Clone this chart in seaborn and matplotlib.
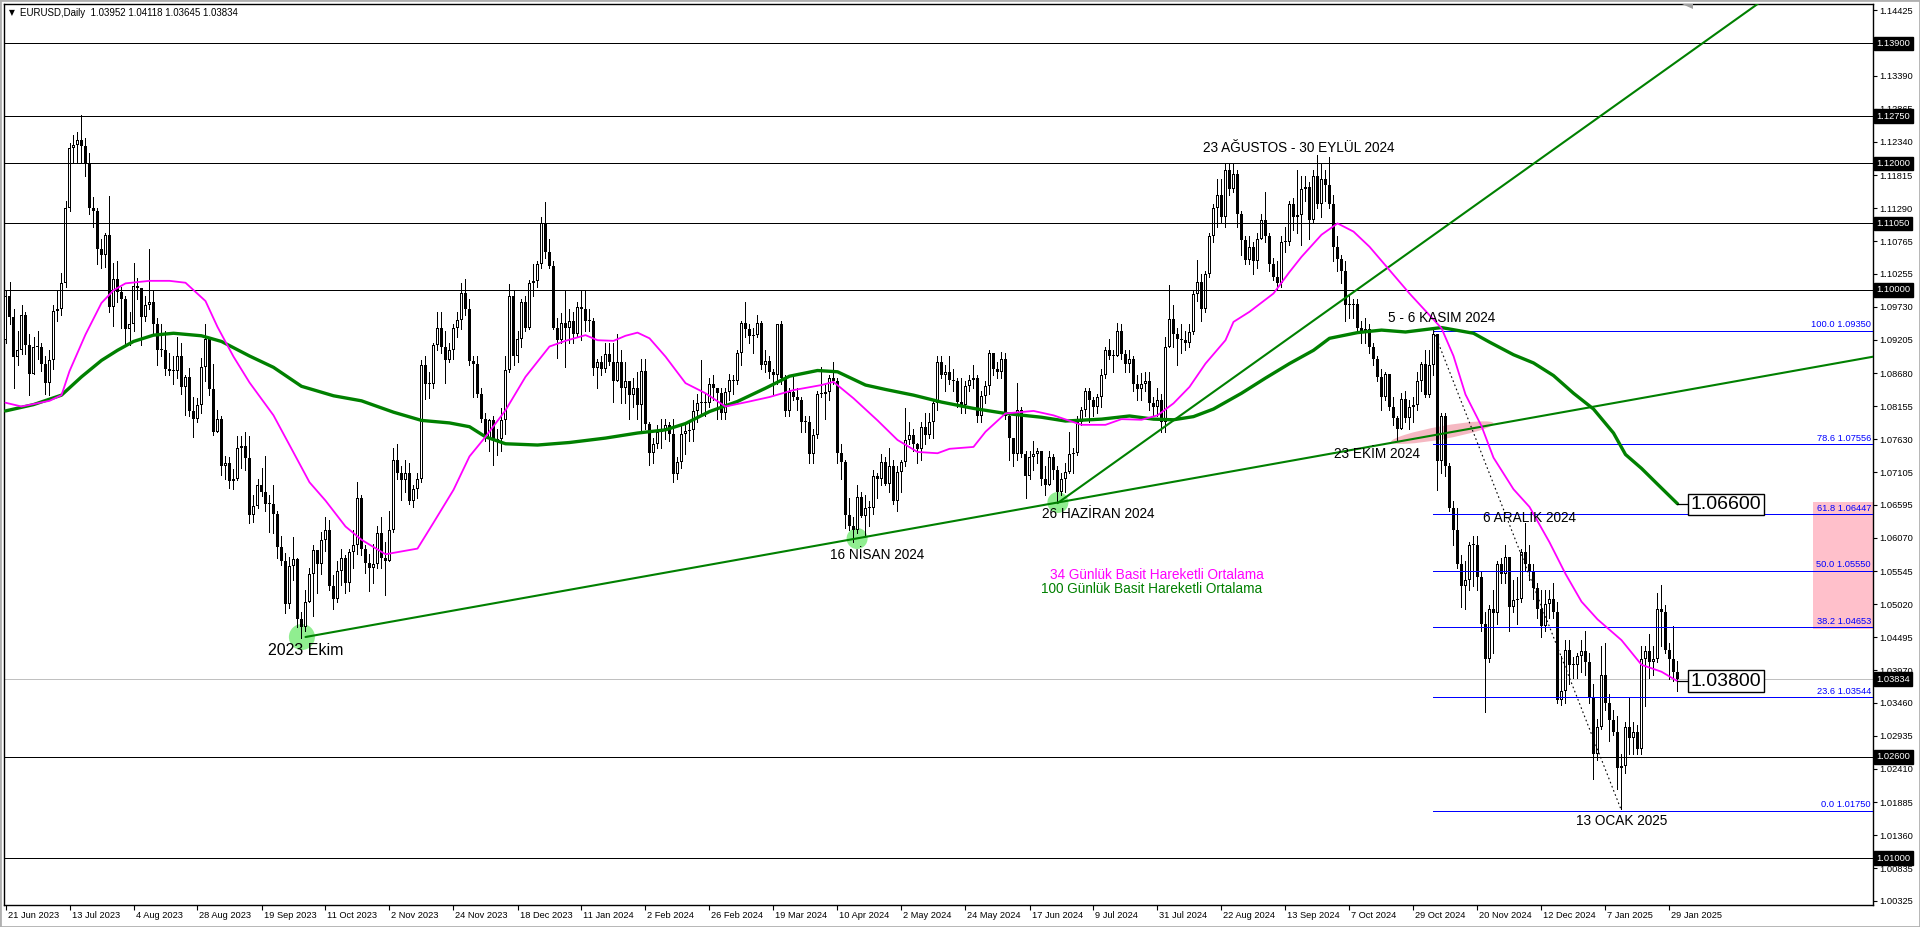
import numpy as np
import pandas as pd
import matplotlib
matplotlib.use("Agg")
import matplotlib.pyplot as plt
import seaborn as sns
from matplotlib.patches import Ellipse, Rectangle, Polygon
from matplotlib.transforms import blended_transform_factory, ScaledTranslation, IdentityTransform

sns.set_theme(style="white")
plt.rcParams["font.family"] = ["Liberation Sans", "DejaVu Sans"]

# ---------------- data (prices x 10000) ----------------
first_open = 10920
closes = [
    10990, 10957, 10894,
    10905, 10960, 10913, 10867, 10910,
    10910, 10882, 10853, 10888, 10967,
    10970, 11010, 11129, 11225, 11229,
    11237, 11228, 11200, 11130, 11125,
    11064, 11055, 11086, 10972, 11017,
    10997, 10985, 10937, 10946, 11006,
    11003, 10957, 10975, 10980, 10945,
    10905, 10905, 10875, 10872, 10872,
    10895, 10846, 10862, 10808, 10795,
    10818, 10878, 10922, 10843, 10775,
    10795, 10720, 10725, 10697, 10700,
    10750, 10752, 10733, 10643, 10657,
    10690, 10679, 10660, 10660, 10645,
    10593, 10570, 10502, 10563, 10573,
    10478, 10466, 10505, 10550, 10588,
    10566, 10604, 10620, 10530, 10510,
    10555, 10575, 10535, 10585, 10595,
    10670, 10590, 10567, 10560, 10565,
    10615, 10575, 10570, 10620, 10730,
    10710, 10698, 10710, 10665, 10685,
    10700, 10880, 10850, 10850, 10912,
    10940, 10910, 10888, 10905, 10940,
    10952, 10995, 10970, 10887, 10883,
    10835, 10795, 10765, 10793, 10762,
    10763, 10794, 10873, 10990, 10895,
    10922, 10980, 10940, 11010, 11013,
    11040, 11105, 11060, 11038,
    10940, 10920, 10947, 10940,
    10950, 10930, 10972, 10970, 10950,
    10950, 10876, 10885, 10875, 10898,
    10885, 10855, 10885, 10845, 10855,
    10833, 10845, 10818, 10872, 10788,
    10742, 10755, 10775, 10780, 10785,
    10772, 10708, 10727, 10772, 10777,
    10778, 10808, 10820, 10822, 10820,
    10850, 10845, 10837, 10805, 10838,
    10857, 10855, 10900, 10947, 10938,
    10927, 10928, 10947, 10880, 10887,
    10870, 10865, 10945, 10860, 10808,
    10838, 10830, 10825, 10790, 10790,
    10740, 10770, 10835, 10835, 10838,
    10860, 10855, 10742, 10727, 10643,
    10625, 10620, 10672, 10642, 10655,
    10655, 10705, 10700, 10727, 10692,
    10720, 10665, 10712, 10727, 10762,
    10770, 10755, 10748, 10782, 10770,
    10790, 10820, 10885, 10865, 10870,
    10857, 10855, 10822, 10818, 10847,
    10857, 10860, 10800, 10832, 10848,
    10900, 10875, 10870, 10890, 10800,
    10765, 10740, 10810, 10740, 10705,
    10735, 10740, 10745, 10700, 10690,
    10735, 10715, 10680, 10700, 10712,
    10740, 10742, 10790, 10810, 10840,
    10825, 10815, 10830, 10865, 10905,
    10895, 10895, 10935, 10898, 10882,
    10890, 10850, 10843, 10850, 10855,
    10820, 10815, 10825, 10790, 10910,
    10953, 10930, 10922, 10920, 10915,
    10933, 10993, 11012, 10970, 11025,
    11085, 11130, 11150, 11115, 11190,
    11160, 11183, 11120, 11078, 11047,
    11068, 11045, 11080, 11110, 11085,
    11040, 11020, 11010, 11075, 11075,
    11135, 11115, 11118, 11160, 11162,
    11110, 11180, 11135, 11175, 11165,
    11135, 11068, 11048, 11030, 10975,
    10975, 10978, 10940, 10935, 10937,
    10910, 10890, 10862, 10830, 10867,
    10815, 10797, 10780, 10827, 10797,
    10815, 10818, 10855, 10883, 10833,
    10880, 10930, 10728, 10800, 10720,
    10655, 10620, 10565, 10530, 10540,
    10595, 10595, 10545, 10470, 10415,
    10495, 10488, 10565, 10550, 10577,
    10497, 10508, 10510, 10585, 10566,
    10555, 10528, 10495, 10467, 10502,
    10510, 10490, 10350, 10365, 10430,
    10405, 10405, 10420, 10428,
    10410, 10353, 10265, 10307,
    10390, 10345, 10318, 10300, 10243,
    10245, 10307, 10290, 10300, 10273,
    10415, 10428, 10410, 10415, 10495,
    10490, 10430, 10415, 10395, 10383.4,
]
highs = [
    11000, 11012, 10970,
    10935, 10976, 10965, 10930, 10925,
    10935, 10915, 10895, 10904, 10975,
    10999, 11026, 11140, 11232, 11245,
    11250, 11276, 11240, 11217, 11147,
    11130, 11080, 11090, 11149, 11043,
    11045, 11005, 10990, 10965, 11042,
    11018, 10990, 10990, 11065, 11000,
    10955, 10945, 10935, 10900, 10895,
    10925, 10915, 10865, 10876, 10830,
    10828, 10892, 10945, 10925, 10882,
    10810, 10800, 10737, 10735, 10716,
    10768, 10768, 10775, 10768, 10675,
    10700, 10718, 10737, 10675, 10690,
    10650, 10610, 10583, 10577, 10609,
    10575, 10490, 10525, 10560, 10595,
    10578, 10616, 10640, 10635, 10548,
    10570, 10590, 10580, 10590, 10620,
    10695, 10675, 10595, 10582, 10598,
    10625, 10640, 10600, 10650, 10750,
    10755, 10720, 10730, 10725, 10690,
    10710, 10888, 10895, 10870, 10915,
    10965, 10965, 10935, 10915, 10946,
    10965, 11010, 11017, 10985, 10895,
    10895, 10845, 10805, 10795, 10800,
    10780, 10813, 10895, 11009, 11000,
    10935, 10985, 10990, 11015, 11040,
    11045, 11115, 11139, 11080,
    11045, 10955, 10963, 10998,
    10970, 10965, 10980, 10999, 10998,
    10970, 10955, 10890, 10895, 10915,
    10915, 10915, 10930, 10905, 10885,
    10850, 10860, 10870, 10890, 10890,
    10790, 10765, 10785, 10795, 10795,
    10790, 10795, 10735, 10785, 10790,
    10790, 10825, 10835, 10888, 10835,
    10860, 10865, 10845, 10845, 10845,
    10867, 10865, 10905, 10950, 10980,
    10945, 10940, 10960, 10950, 10905,
    10895, 10875, 10945, 10950, 10865,
    10845, 10865, 10845, 10830, 10800,
    10800, 10780, 10840, 10877, 10850,
    10865, 10885, 10860, 10755, 10730,
    10670, 10640, 10690, 10680, 10675,
    10665, 10715, 10710, 10740, 10735,
    10750, 10730, 10720, 10730, 10812,
    10790, 10780, 10758, 10790, 10805,
    10805, 10825, 10895, 10895, 10880,
    10895, 10875, 10860, 10860, 10855,
    10865, 10880, 10865, 10840, 10855,
    10905, 10900, 10885, 10902, 10900,
    10805, 10765, 10852, 10815, 10745,
    10745, 10760, 10750, 10745, 10720,
    10745, 10740, 10720, 10710, 10725,
    10775, 10750, 10800, 10815, 10845,
    10845, 10830, 10835, 10875, 10910,
    10922, 10905, 10948, 10945, 10905,
    10905, 10895, 10865, 10868, 10870,
    10870, 10830, 10845, 10835, 10925,
    11008, 10975, 10940, 10945, 10935,
    10945, 11000, 11047, 11025, 11030,
    11090, 11135, 11175, 11175, 11201,
    11200, 11200, 11190, 11125, 11085,
    11085, 11075, 11090, 11120, 11155,
    11090, 11050, 11045, 11085, 11100,
    11140, 11145, 11190, 11180, 11180,
    11170, 11190, 11214, 11200, 11190,
    11210, 11150, 11085, 11055, 11045,
    10990, 10985, 10985, 10950, 10955,
    10945, 10915, 10895, 10875, 10870,
    10865, 10830, 10800, 10837, 10840,
    10825, 10830, 10870, 10885, 10905,
    10905, 10937, 10930, 10805, 10805,
    10725, 10665, 10655, 10580, 10570,
    10600, 10610, 10610, 10555, 10490,
    10500, 10525, 10570, 10575, 10595,
    10575, 10540, 10545, 10590, 10630,
    10595, 10565, 10535, 10525, 10525,
    10525, 10535, 10505, 10420, 10445,
    10445, 10418, 10425, 10445,
    10460, 10425, 10375, 10320,
    10435, 10440, 10360, 10335, 10325,
    10265, 10315, 10355, 10315, 10310,
    10435, 10435, 10455, 10435, 10520,
    10533, 10500, 10440, 10467, 10411.8,
]
lows = [
    10915, 10945, 10844,
    10880, 10898, 10898, 10834, 10866,
    10890, 10872, 10835, 10833, 10875,
    10950, 10960, 11005, 11125, 11200,
    11200, 11200, 11180, 11120, 11100,
    11040, 11035, 11036, 10965, 10943,
    10980, 10940, 10912, 10912, 10935,
    10985, 10913, 10950, 10970, 10930,
    10880, 10895, 10865, 10865, 10850,
    10860, 10835, 10802, 10800, 10766,
    10790, 10805, 10855, 10833, 10770,
    10775, 10706, 10700, 10686, 10685,
    10698, 10717, 10715, 10630, 10632,
    10655, 10674, 10650, 10617, 10615,
    10575, 10564, 10488, 10496, 10540,
    10466, 10448, 10460, 10505, 10483,
    10520, 10550, 10586, 10525, 10495,
    10505, 10532, 10520, 10523, 10560,
    10582, 10580, 10552, 10523, 10535,
    10560, 10560, 10517, 10570, 10616,
    10700, 10667, 10680, 10660, 10656,
    10670, 10695, 10827, 10828, 10845,
    10905, 10900, 10852, 10885, 10890,
    10925, 10938, 10960, 10880, 10830,
    10830, 10790, 10760, 10745, 10723,
    10738, 10745, 10772, 10870, 10880,
    10885, 10910, 10935, 10938, 10990,
    11005, 11035, 11050, 11035,
    10937, 10892, 10915, 10877,
    10915, 10915, 10925, 10920, 10935,
    10935, 10865, 10845, 10865, 10870,
    10880, 10822, 10855, 10820, 10820,
    10795, 10815, 10795, 10778, 10780,
    10723, 10725, 10750, 10750, 10763,
    10761, 10695, 10700, 10718, 10740,
    10760, 10761, 10790, 10800, 10800,
    10815, 10825, 10795, 10795, 10795,
    10825, 10835, 10850, 10880, 10925,
    10915, 10900, 10925, 10875, 10870,
    10860, 10835, 10850, 10850, 10800,
    10800, 10825, 10810, 10775, 10775,
    10725, 10725, 10765, 10830, 10795,
    10825, 10850, 10725, 10700, 10622,
    10620, 10601, 10615, 10640, 10610,
    10625, 10645, 10670, 10690, 10690,
    10680, 10660, 10650, 10680, 10720,
    10755, 10745, 10725, 10730, 10755,
    10765, 10765, 10810, 10860, 10840,
    10850, 10840, 10815, 10805, 10805,
    10840, 10845, 10790, 10790, 10820,
    10835, 10865, 10860, 10860, 10795,
    10730, 10720, 10730, 10735, 10670,
    10700, 10715, 10725, 10690, 10675,
    10690, 10700, 10666, 10675, 10680,
    10710, 10710, 10738, 10785, 10800,
    10790, 10800, 10805, 10815, 10860,
    10890, 10870, 10895, 10890, 10870,
    10870, 10840, 10825, 10825, 10840,
    10810, 10800, 10800, 10775, 10775,
    10910, 10910, 10880, 10900, 10905,
    10910, 10930, 10982, 10950, 10965,
    11020, 11075, 11100, 11105, 11100,
    11150, 11155, 11100, 11055, 11040,
    11040, 11025, 11035, 11080, 11075,
    11030, 11015, 11000, 11005, 11060,
    11070, 11095, 11090, 11070, 11140,
    11080, 11105, 11130, 11115, 11140,
    11130, 11045, 11030, 11010, 10950,
    10955, 10955, 10935, 10915, 10915,
    10900, 10880, 10855, 10810, 10825,
    10810, 10785, 10761, 10780, 10790,
    10780, 10790, 10810, 10840, 10830,
    10830, 10865, 10683, 10710, 10705,
    10650, 10595, 10560, 10497, 10495,
    10525, 10530, 10525, 10460, 10332,
    10410, 10425, 10470, 10535, 10535,
    10460, 10490, 10470, 10505, 10555,
    10540, 10510, 10480, 10450, 10460,
    10480, 10480, 10345, 10342, 10345,
    10375, 10385, 10385, 10395,
    10390, 10345, 10225, 10255,
    10305, 10335, 10285, 10295, 10210,
    10177, 10235, 10265, 10265, 10265,
    10265, 10340, 10385, 10390, 10410,
    10435, 10425, 10383, 10380, 10364.5,
]

# 34-day SMA (magenta): bar number, value
sma34_bar = [0, 4, 11, 14, 16, 20, 24, 27, 30, 36, 41, 45, 50, 53, 57, 61, 67, 71, 76, 80,
             85, 89, 95, 103, 107, 112, 116, 120, 125, 130, 136, 140, 145, 148, 152, 155, 158,
             161, 165, 170, 175, 180, 186, 191, 197, 204, 207, 212, 218, 223, 228, 233, 236,
             242, 245, 250, 257, 262, 269, 275, 279, 284, 288, 292, 296, 300, 305, 307, 311,
             317, 321, 324, 329, 333, 337, 341, 346, 351, 359, 362, 365, 369, 372, 377, 381,
             386, 390, 394, 398, 404, 409, 414, 418]
sma34_val = [1.0821, 1.0815, 1.0824, 1.0833, 1.0871, 1.0929, 1.0979, 1.0999, 1.1010, 1.1014,
             1.1014, 1.1011, 1.0982, 1.0941, 1.0894, 1.0853, 1.0801, 1.0754, 1.0695, 1.0666,
             1.0625, 1.0604, 1.0581, 1.0590, 1.0631, 1.0683, 1.0736, 1.0767, 1.0809, 1.0862,
             1.0910, 1.0919, 1.0928, 1.0920, 1.0919, 1.0927, 1.0932, 1.0923, 1.0894, 1.0852,
             1.0836, 1.0815, 1.0823, 1.0830, 1.0841, 1.0849, 1.0854, 1.0828, 1.0793, 1.0762,
             1.0743, 1.0741, 1.0748, 1.0751, 1.0775, 1.0804, 1.0808, 1.0801, 1.0786, 1.0786,
             1.0795, 1.0794, 1.0801, 1.0820, 1.0846, 1.0883, 1.0920, 1.0949, 1.0965, 1.0994,
             1.1028, 1.1052, 1.1087, 1.1105, 1.1092, 1.1068, 1.1031, 1.0994, 1.0939, 1.0895,
             1.0834, 1.0784, 1.0734, 1.0684, 1.0656, 1.0600, 1.0550, 1.0506, 1.0478, 1.0445,
             1.0406, 1.0395, 1.0380]
# 100-day SMA (green)
sma100_bar = [0, 7, 14, 19, 24, 28, 32, 37, 42, 49, 54, 61, 67, 74, 82, 89, 97, 104, 111, 116,
              120, 125, 133, 141, 150, 158, 165, 170, 176, 183, 190, 196, 203, 208, 215, 220,
              227, 234, 242, 250, 259, 265, 274, 281, 287, 292, 297, 302, 309, 315, 321, 327,
              331, 338, 344, 350, 359, 367, 371, 377, 382, 387, 392, 397, 402, 405, 409, 413, 418]
sma100_val = [1.0808, 1.0818, 1.0833, 1.0862, 1.0888, 1.0904, 1.0918, 1.0928, 1.0931, 1.0927,
              1.0918, 1.0895, 1.0877, 1.0847, 1.0832, 1.0824, 1.0806, 1.0793, 1.0789, 1.0783,
              1.0767, 1.0756, 1.0754, 1.0758, 1.0765, 1.0773, 1.0778, 1.0788, 1.0807, 1.0823,
              1.0844, 1.0863, 1.0872, 1.0870, 1.0849, 1.0842, 1.0833, 1.0822, 1.0812, 1.0804,
              1.0798, 1.0792, 1.0795, 1.0800, 1.0795, 1.0794, 1.0799, 1.0811, 1.0836, 1.0860,
              1.0883, 1.0904, 1.0923, 1.0932, 1.0936, 1.0933, 1.0940, 1.0931, 1.0917, 1.0897,
              1.0884, 1.0864, 1.0836, 1.0811, 1.0773, 1.0739, 1.0717, 1.0692, 1.0661]

price_ticks = [1.14425, 1.13390, 1.12865, 1.12340, 1.11815, 1.11290, 1.10765, 1.10255,
               1.09730, 1.09205, 1.08680, 1.08155, 1.07630, 1.07105, 1.06595, 1.06070,
               1.05545, 1.05020, 1.04495, 1.03970, 1.03460, 1.02935, 1.02410, 1.01885,
               1.01360, 1.00835, 1.00325]
hlines = [1.13900, 1.12750, 1.12000, 1.11050, 1.10000, 1.02600, 1.01000]
last_price = 1.03834
fib_names = ["100.0", "78.6", "61.8", "50.0", "38.2", "23.6", "0.0"]
fib_prices = [1.09350, 1.07556, 1.06447, 1.05550, 1.04653, 1.03544, 1.01750]
header = "EURUSD,Daily  1.03952 1.04118 1.03645 1.03834"

# ---------------- dates ----------------
dates = pd.bdate_range("2023-06-21", "2025-01-31")
dates = dates[~(((dates.month == 12) & (dates.day == 25)) | ((dates.month == 1) & (dates.day == 1)))]
n = len(dates)
C = np.array(closes) / 1e4
H = np.array(highs) / 1e4
L = np.array(lows) / 1e4
assert len(C) == n and len(H) == n and len(L) == n, (n, len(C), len(H), len(L))
O = np.r_[first_open / 1e4, C[:-1]]
idx = np.arange(n)

def bar_of(day):
    return int(np.where(dates == pd.Timestamp(day))[0][0])

# ---------------- figure ----------------
W, Hh = 1920, 927
PPU = 6315.0  # pixels per price unit (for 1px offsets)
fig = plt.figure(figsize=(W / 100, Hh / 100), dpi=100)
fig.patch.set_facecolor("white")
ax = fig.add_axes([4 / W, 22 / Hh, 1869 / W, 901 / Hh])
ax.set_facecolor("white")
ax.set_xlim(-0.375, 466.875)
ax.set_ylim(1.00256, 1.14524)

def px(i, p):
    return ax.transData.transform((i, p))

# background objects
ax.add_patch(Rectangle((452, 1.0463), 20, 1.0664 - 1.0463, facecolor="#ffc0cb", edgecolor="none", zorder=1))
for (d, p, diam, dx) in [("2023-10-03", 1.04500, 26, 0.1), ("2024-04-16", 1.06060, 21, 0.9),
                         ("2024-06-26", 1.06630, 21, 0.1)]:
    cx, cy = px(bar_of(d) + dx, p)
    ax.add_patch(Ellipse((cx, cy), diam, diam, facecolor="#90ee90", edgecolor="none",
                         transform=IdentityTransform(), zorder=1))
cx, cy = px(359.2, 1.07736)
ax.add_patch(Ellipse((cx, cy), 104, 13, angle=10.3, facecolor="#f5b8c2", edgecolor="none",
                     transform=IdentityTransform(), zorder=1))
ax.axhline(last_price, color="#c0c0c0", lw=0.72, zorder=1.5, antialiased=False)

# candles (MT4 style: black bear bodies, white bull bodies with black outline)
lo = np.minimum(L, np.minimum(O, C))
hi = np.maximum(H, np.maximum(O, C))
ax.vlines(idx, lo, hi, color="black", lw=0.72, zorder=2, antialiased=False)
up = C >= O
bottom = np.minimum(O, C)
height = np.maximum(np.abs(C - O), 1.0 / PPU)
ax.bar(idx, height, bottom=bottom, width=0.75, color="black", linewidth=0, zorder=3,
       antialiased=False)
inner = up & (height > 2.5 / PPU)
ax.bar(idx[inner], height[inner] - 2.0 / PPU, bottom=bottom[inner] + 1.0 / PPU, width=0.25,
       color="white", linewidth=0, zorder=3.1, antialiased=False)

# horizontal lines
for lv in hlines:
    ax.axhline(lv, color="black", lw=0.72, zorder=4, antialiased=False)

# fibonacci
fib_start = bar_of("2024-11-05")
fib_end = bar_of("2025-01-13")
ax.hlines(fib_prices, fib_start, 467.0, color="#0000ff", lw=0.72, zorder=4, antialiased=False)
ax.plot([fib_start, fib_end], [fib_prices[0], fib_prices[-1]], color="black", lw=0.8,
        ls=(0, (1.5, 2.5)), zorder=4)
off_up = ScaledTranslation(0, 1.5 / 100, fig.dpi_scale_trans)
for nm, fp in zip(fib_names, fib_prices):
    ax.text(466.4, fp, f"{nm} {fp:.5f}", ha="right", va="bottom", color="#0000ff", fontsize=6.7,
            transform=ax.transData + off_up, zorder=6)

# trend lines
t_a0, t_a1 = (75, 1.0450), (467.0, 1.0894)
ax.plot([t_a0[0], t_a1[0]], [t_a0[1], t_a1[1]], color="#008000", lw=1.5, zorder=5)
t_b0, slope_b = (bar_of("2024-06-26"), 1.0662), 0.0004516
ax.plot([t_b0[0], 470], [t_b0[1], t_b0[1] + slope_b * (470 - t_b0[0])], color="#008000", lw=1.5, zorder=5)

# moving averages (seaborn)
sns.lineplot(x=np.array(sma100_bar), y=np.array(sma100_val), ax=ax, color="#008000", linewidth=2.4,
             zorder=5)
sns.lineplot(x=np.array(sma34_bar), y=np.array(sma34_val), ax=ax, color="#ff00ff", linewidth=1.3,
             zorder=5)

# price labels for MA ends
for v, s in [(1.06600, "1.06600"), (1.03800, "1.03800")]:
    ax.plot([418, 420.8], [v, v], color="black", lw=0.9, zorder=5)
    ax.text(421.3, v, s, ha="left", va="center", fontsize=14, color="black", zorder=7,
            bbox=dict(boxstyle="square,pad=0.12", facecolor="white", edgecolor="black", lw=1.0))

# annotations
ann = [
    ("23 AĞUSTOS - 30 EYLÜL 2024", 323.25, 1.12243, 9.8),
    ("5 - 6 KASIM 2024", 359.0, 1.09551, 9.8),
    ("23 EKİM 2024", 343.0, 1.07398, 9.8),
    ("6 ARALIK 2024", 381.0, 1.06392, 9.8),
    ("13 OCAK 2025", 404.0, 1.01586, 9.8),
    ("26 HAZİRAN 2024", 273.1, 1.06443, 9.8),
    ("16 NİSAN 2024", 217.9, 1.05798, 9.8),
    ("2023 Ekim", 75.1, 1.04286, 11.5),
]
for s, xi, yp, fs in ann:
    ax.text(xi, yp, s, ha="center", va="center", fontsize=fs, color="black", zorder=6)
ax.text(287.8, 1.05480, "34 Günlük Basit Hareketli Ortalama", ha="center", va="center",
        fontsize=9.8, color="#ff00ff", zorder=6)
ax.text(286.5, 1.05265, "100 Günlük Basit Hareketli Ortalama", ha="center", va="center",
        fontsize=9.8, color="#008000", zorder=6)

# axes styling
for sp in ax.spines.values():
    sp.set_color("black")
    sp.set_linewidth(1.0)
ax.yaxis.tick_right()
ax.set_yticks(price_ticks)
ax.set_yticklabels([f"{t:.5f}" for t in price_ticks])
tick_bars = idx[::16]
ax.set_xticks(tick_bars)
ax.set_xticklabels([f"{d.day} {d.strftime('%b %Y')}" for d in dates[tick_bars]], ha="left")
ax.tick_params(axis="y", which="major", right=True, left=False, length=3, width=0.8, pad=1.5,
               labelsize=6.7, colors="black", direction="out")
ax.tick_params(axis="x", which="major", bottom=True, length=3.5, width=0.8, pad=0.6,
               labelsize=6.7, colors="black", direction="out")
shift = ScaledTranslation(2 / 100, 0, fig.dpi_scale_trans)
for lab in ax.get_xticklabels():
    lab.set_transform(lab.get_transform() + shift)
ax.grid(False)

# highlighted axis labels
bt = blended_transform_factory(ax.transAxes, ax.transData) + ScaledTranslation(3.5 / 100, 0, fig.dpi_scale_trans)
for lv in hlines + [last_price]:
    ax.text(1.0, lv, f"{lv:.5f}", transform=bt, ha="left", va="center", color="white", fontsize=6.7,
            clip_on=False, zorder=10,
            bbox=dict(boxstyle="square,pad=0.25", facecolor="black", edgecolor="black"))

# header
fig.text(9 / W, 1 - 13 / Hh, "▼", fontsize=5.5, family="DejaVu Sans", va="center", color="black")
fig.text(20 / W, 1 - 13 / Hh, header, fontsize=7, va="center", color="black")
# chart-shift marker
fig.patches.append(Polygon([[1682, Hh - 4], [1693, Hh - 4], [1693, Hh - 9]], closed=True,
                           facecolor="#a0a0a0", edgecolor="none", transform=IdentityTransform()))
# window frame
fig.patches.append(Rectangle((0, 0), 1, 1, transform=fig.transFigure, fill=False,
                             edgecolor="#b0b0b0", lw=2))

fig.savefig("out.png", dpi=100, facecolor="white")
